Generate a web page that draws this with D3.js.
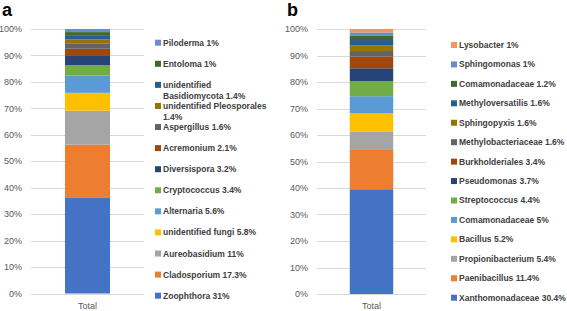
<!DOCTYPE html>
<html>
<head>
<meta charset="utf-8">
<script src="https://cdn.jsdelivr.net/npm/d3@7"></script>
<style>
  body { margin: 0; background: #fff; }
  text { font-family: "Liberation Sans", Arial, sans-serif; }
</style>
</head>
<body>
<div id="container"></div>
<script>
var width = 567,
    height = 311;

// panel a, bottom of stack first
var namesA = ["Zoophthora", "Cladosporium", "Aureobasidium", "unidentified fungi", "Alternaria",
    "Cryptococcus", "Diversispora", "Acremonium", "Aspergillus", "unidentified Pleosporales",
    "unidentified Basidiomycota", "Entoloma", "Piloderma"];
var valuesA = [31, 17.3, 11, 5.8, 5.6, 3.4, 3.2, 2.1, 1.6, 1.4, 1.4, 1, 1];

// panel b, bottom of stack first
var namesB = ["Xanthomonadaceae", "Paenibacillus", "Propionibacterium", "Bacillus", "Comamonadaceae",
    "Streptococcus", "Pseudomonas", "Burkholderiales", "Methylobacteriaceae", "Sphingopyxis",
    "Methyloversatilis", "Comamonadaceae", "Sphingomonas", "Lysobacter"];
var valuesB = [30.4, 11.4, 5.4, 5.2, 5, 4.4, 3.7, 3.4, 1.6, 1.6, 1.6, 1.2, 1, 1];

var category = ["Total"];
var yTicks = [0, 0.1, 0.2, 0.3, 0.4, 0.5, 0.6, 0.7, 0.8, 0.9, 1];

var colors = ["#4472C4", "#ED7D31", "#A5A5A5", "#FFC000", "#5B9BD5", "#70AD47",
    "#264478", "#9E480E", "#636363", "#997300", "#255E91", "#43682B",
    "#698ED0", "#F1975A"];

var svg = d3.select("#container").append("svg")
    .attr("width", width)
    .attr("height", height);

function drawPanel(o) {
    let g = svg.append("g");
    let keys = o.names.map((d, i) => "k" + i);
    let row = { cat: category[0] };
    keys.forEach((k, i) => row[k] = o.values[i]);
    let series = d3.stack().keys(keys).offset(d3.stackOffsetExpand)([row]);

    let x = d3.scaleBand().domain(category).range([o.x0, o.x1]).paddingInner(0.43).paddingOuter(0.43);
    let y = d3.scaleLinear().domain([0, 1]).range([o.y0, o.y1]);

    g.selectAll(".grid")
        .data(yTicks)
        .enter().append("line")
        .attr("x1", o.x0).attr("x2", o.x1)
        .attr("y1", d => Math.round(y(d)) + 0.5)
        .attr("y2", d => Math.round(y(d)) + 0.5)
        .attr("stroke", "#d9d9d9")
        .attr("stroke-width", 1);

    g.selectAll(".ylab")
        .data(yTicks)
        .enter().append("text")
        .attr("x", o.x0 - 9)
        .attr("y", d => y(d))
        .attr("dy", "0.35em")
        .attr("text-anchor", "end")
        .attr("font-size", 9)
        .attr("fill", "#595959")
        .text(d => d3.format(".0%")(d));

    g.selectAll(".seg")
        .data(series)
        .enter().append("rect")
        .attr("x", x(category[0]))
        .attr("width", x.bandwidth())
        .attr("y", d => y(d[0][1]))
        .attr("height", d => y(d[0][0]) - y(d[0][1]))
        .attr("fill", (d, i) => colors[i]);

    g.append("text")
        .attr("x", x(category[0]) + x.bandwidth() / 2)
        .attr("y", o.y0 + 12)
        .attr("dy", "0.35em")
        .attr("text-anchor", "middle")
        .attr("font-size", 9)
        .attr("fill", "#595959")
        .text(category[0]);

    g.append("text")
        .attr("x", o.labX)
        .attr("y", 16)
        .attr("font-size", 18)
        .attr("font-weight", "bold")
        .attr("fill", "#000")
        .text(o.label);

    // legend, top of stack first
    let n = o.names.length;
    let ly = d3.scalePoint().domain(d3.range(n)).range([o.legTop, o.legBottom]);
    let items = o.names.map((d, i) => ({ name: d, value: o.values[i], i: i }));
    let lg = g.selectAll(".leg")
        .data(items)
        .enter().append("g")
        .attr("transform", d => "translate(0," + ly(n - 1 - d.i) + ")");
    lg.append("rect")
        .attr("x", o.legX)
        .attr("y", -3)
        .attr("width", 6)
        .attr("height", 6)
        .attr("fill", d => colors[d.i]);
    lg.append("text")
        .attr("x", o.legX + 8)
        .attr("y", 0)
        .attr("dy", "0.35em")
        .attr("font-size", 8.5)
        .attr("font-weight", "bold")
        .attr("fill", "#404040")
        .each(function (d) {
            let t = d3.select(this);
            let words = (d.name + " " + d.value + "%").split(" ");
            let lines = [];
            let cur = [];
            let tmp = t.append("tspan");
            words.forEach(w => {
                let test = cur.concat([w]).join(" ");
                tmp.text(test);
                if (cur.length && tmp.node().getComputedTextLength() > o.legWrap) {
                    lines.push(cur.join(" "));
                    cur = [w];
                } else {
                    cur.push(w);
                }
            });
            lines.push(cur.join(" "));
            tmp.remove();
            lines.forEach((l, k) => {
                t.append("tspan")
                    .attr("x", o.legX + 8)
                    .attr("dy", k == 0 ? "0.35em" : 11)
                    .text(l);
            });
        });
}

drawPanel({
    label: "a", labX: 2,
    names: namesA, values: valuesA,
    x0: 31, x1: 144, y0: 293.5, y1: 29,
    legX: 155, legTop: 42.7, legBottom: 295.7, legWrap: 106
});

drawPanel({
    label: "b", labX: 287,
    names: namesB, values: valuesB,
    x0: 317, x1: 426, y0: 294, y1: 29,
    legX: 451, legTop: 45, legBottom: 297.7, legWrap: 200
});
</script>
</body>
</html>
